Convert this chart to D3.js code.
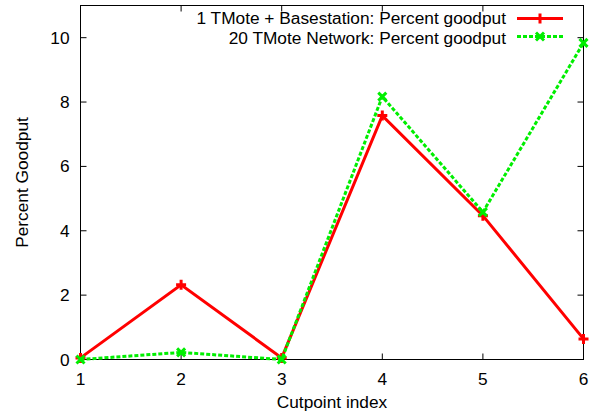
<!DOCTYPE html>
<html><head><meta charset="utf-8">
<script src="https://cdn.jsdelivr.net/npm/d3@7"></script>
<style>body{margin:0;background:#fff}text{font-family:"Liberation Sans",Arial,sans-serif}</style>
</head><body><svg id="c" width="591" height="415"></svg>
<script>
const cutpoints = [1, 2, 3, 4, 5, 6];
const redValues = [0.05, 2.32, 0.05, 7.58, 4.47, 0.64];
const greenValues = [0.0, 0.22, 0.0, 8.17, 4.58, 9.84];
const seriesNames = ["1 TMote + Basestation: Percent goodput", "20 TMote Network: Percent goodput"];
const yTicks = [0, 2, 4, 6, 8, 10];
const xTicks = [1, 2, 3, 4, 5, 6];

const svg = d3.select("#c");
const L = 80.5, R = 583.5, T = 5.5, B = 359.5;
const FS = 17.3;
const x = d3.scaleLinear().domain([1, 6]).range([L, R]);
const y = d3.scaleLinear().domain([0, 11]).range([B, T]);
const tl = 6;

const g = svg.append("g");
yTicks.forEach(v => {
  g.append("line").attr("x1", L).attr("x2", L + tl).attr("y1", y(v)).attr("y2", y(v)).attr("stroke", "#000");
  g.append("line").attr("x1", R).attr("x2", R - tl).attr("y1", y(v)).attr("y2", y(v)).attr("stroke", "#000");
  g.append("text").attr("x", L - 11).attr("y", y(v) + 6).attr("text-anchor", "end").attr("font-size", FS).text(v);
});
xTicks.forEach(v => {
  g.append("line").attr("x1", x(v)).attr("x2", x(v)).attr("y1", B).attr("y2", B - tl).attr("stroke", "#000");
  g.append("line").attr("x1", x(v)).attr("x2", x(v)).attr("y1", T).attr("y2", T + tl).attr("stroke", "#000");
  g.append("text").attr("x", x(v)).attr("y", B + 25).attr("text-anchor", "middle").attr("font-size", FS).text(v);
});
g.append("rect").attr("x", L).attr("y", T).attr("width", R - L).attr("height", B - T)
  .attr("fill", "none").attr("stroke", "#000").attr("stroke-width", 1);

svg.append("text").attr("x", (L + R) / 2).attr("y", 408).attr("text-anchor", "middle").attr("font-size", FS).text("Cutpoint index");
svg.append("text").attr("transform", `translate(28,${(T + B) / 2}) rotate(-90)`).attr("text-anchor", "middle").attr("font-size", FS).text("Percent Goodput");

const line = d3.line().x((d, i) => x(cutpoints[i])).y(d => y(d));
function plusMark(sel, px, py, col) {
  sel.append("path").attr("d", `M${px - 5},${py}H${px + 5}M${px},${py - 5}V${py + 5}`).attr("stroke", col).attr("stroke-width", 3);
}
function xMark(sel, px, py, col) {
  sel.append("path").attr("d", `M${px - 4},${py - 4}L${px + 4},${py + 4}M${px - 4},${py + 4}L${px + 4},${py - 4}`).attr("stroke", col).attr("stroke-width", 3);
}
const red = "#ff0000", green = "#00ee00";
svg.append("path").datum(redValues).attr("d", line).attr("fill", "none").attr("stroke", red).attr("stroke-width", 3);
redValues.forEach((v, i) => plusMark(svg, x(cutpoints[i]), y(v), red));
svg.append("path").datum(greenValues).attr("d", line).attr("fill", "none").attr("stroke", green).attr("stroke-width", 3).attr("stroke-dasharray", "4,2");
greenValues.forEach((v, i) => xMark(svg, x(cutpoints[i]), y(v), green));

const ly = [18.5, 36.5];
const ty = [24, 43.5];
svg.append("text").attr("x", 506).attr("y", ty[0]).attr("text-anchor", "end").attr("font-size", FS).text(seriesNames[0]);
svg.append("text").attr("x", 506).attr("y", ty[1]).attr("text-anchor", "end").attr("font-size", FS).text(seriesNames[1]);
svg.append("line").attr("x1", 517).attr("x2", 563).attr("y1", ly[0]).attr("y2", ly[0]).attr("stroke", red).attr("stroke-width", 3);
plusMark(svg, 540, ly[0], red);
svg.append("line").attr("x1", 517).attr("x2", 563).attr("y1", ly[1]).attr("y2", ly[1]).attr("stroke", green).attr("stroke-width", 3).attr("stroke-dasharray", "4,2");
xMark(svg, 540, ly[1], green);
</script></body></html>
